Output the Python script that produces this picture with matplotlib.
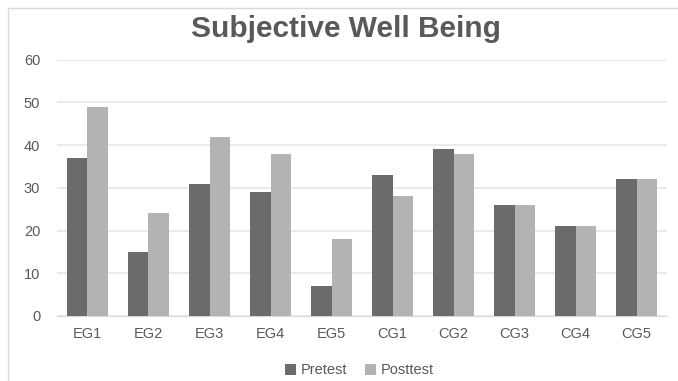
"""Subjective Well Being pretest vs posttest bar chart."""
import numpy as np
import matplotlib.pyplot as plt
from matplotlib.patches import Rectangle

groups = ["EG1", "EG2", "EG3", "EG4", "EG5", "CG1", "CG2", "CG3", "CG4", "CG5"]
pretest = [37, 15, 31, 29, 7, 33, 39, 26, 21, 32]
posttest = [49, 24, 42, 38, 18, 28, 38, 26, 21, 32]
yticks = [0, 10, 20, 30, 40, 50, 60]

plt.rcParams["font.family"] = ["Liberation Sans", "DejaVu Sans"]
text_color = "#595959"

fig = plt.figure(figsize=(6.78, 3.81), dpi=100)
ax = fig.add_axes([0.084, 0.171, 0.900, 0.672])

# light frame around the chart area, like the spreadsheet export
fig.patches.append(Rectangle((0.012, -0.01), 1.0, 0.99, transform=fig.transFigure,
                             fill=False, edgecolor="#d9d9d9", linewidth=1.0))

x = np.arange(len(groups))
width = 0.335
ax.bar(x - width / 2, pretest, width, color="#6b6b6b", label="Pretest", zorder=3)
ax.bar(x + width / 2, posttest, width, color="#b3b3b3", label="Posttest", zorder=3)

ax.set_xlim(-0.5, len(groups) - 0.5)
ax.set_ylim(0, 60)
ax.set_yticks(yticks)
ax.set_xticks(x)
ax.set_xticklabels(groups)
ax.grid(axis="y", color="#e6e6e6", linewidth=1.2, zorder=0)
for side in ["top", "right", "left"]:
    ax.spines[side].set_visible(False)
ax.spines["bottom"].set_color("#d9d9d9")
ax.tick_params(axis="both", length=0, labelsize=10.5, colors=text_color)
ax.tick_params(axis="x", pad=8)
ax.tick_params(axis="y", pad=12)

fig.text(0.51, 0.925, "Subjective Well Being", ha="center", va="center",
         fontsize=21.5, fontweight="bold", color=text_color)

fig.legend(loc="center", bbox_to_anchor=(0.53, 0.028), ncol=2, frameon=False,
           fontsize=10.5, labelcolor=text_color, handlelength=0.8, handleheight=0.8,
           handletextpad=0.3, columnspacing=1.2)

fig.savefig("out.png", dpi=100)
